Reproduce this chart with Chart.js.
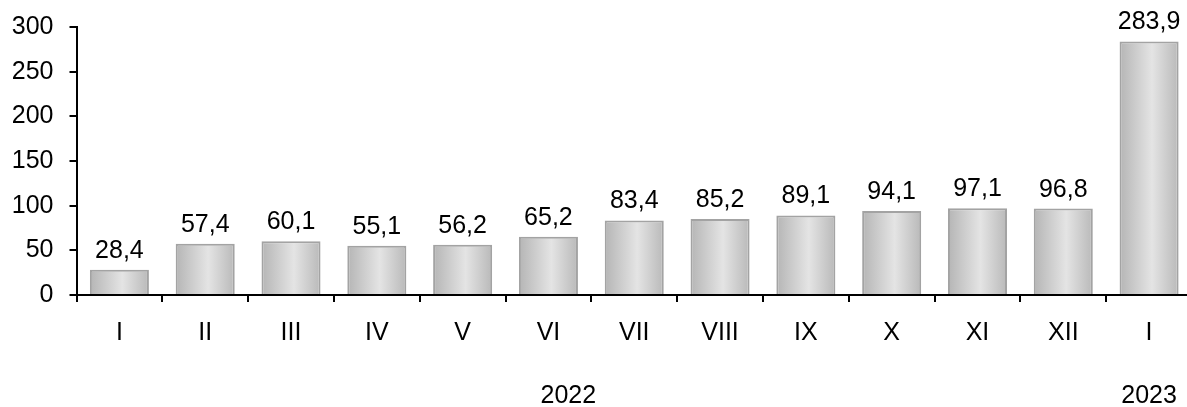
<!DOCTYPE html>
<html>
<head>
<meta charset="utf-8">
<script src="https://cdn.jsdelivr.net/npm/chart.js@4/dist/chart.umd.min.js"></script>
<style>
html,body{margin:0;padding:0;background:#fff;overflow:hidden;width:1187px;height:407px;}
#wrap{width:1192px;height:407px;}
</style>
</head>
<body>
<div id="wrap"><canvas id="c" width="1192" height="407"></canvas></div>
<script>
const categories = ['I','II','III','IV','V','VI','VII','VIII','IX','X','XI','XII','I'];
const values = [28.4, 57.4, 60.1, 55.1, 56.2, 65.2, 83.4, 85.2, 89.1, 94.1, 97.1, 96.8, 283.9];
const yearLabels = ['2022', '2023'];
const yearFrom = [0, 12];
const yearTo = [11, 12];
const yTicks = [0, 50, 100, 150, 200, 250, 300];

const FONT = '"Liberation Sans", Arial, sans-serif';
const FS = 25;
const BAR_PCT = 0.688;

function barFill(ctx) {
  const chart = ctx.chart;
  const xs = chart.scales.x;
  if (!chart.chartArea || !xs || ctx.dataIndex === undefined) return '#d0d0d0';
  const cx = xs.getPixelForValue(ctx.dataIndex);
  const w = (xs.width / categories.length) * BAR_PCT;
  if (!isFinite(cx) || !isFinite(w) || w <= 0) return '#d0d0d0';
  const g = chart.ctx.createLinearGradient(cx - w / 2, 0, cx + w / 2, 0);
  g.addColorStop(0, '#b5b5b5');
  g.addColorStop(0.55, '#e4e4e4');
  g.addColorStop(1, '#b9b9b9');
  return g;
}

const labelPlugin = {
  id: 'labels',
  afterDatasetsDraw(chart) {
    const c = chart.ctx;
    const meta = chart.getDatasetMeta(0);
    c.save();
    c.font = FS + 'px ' + FONT;
    c.fillStyle = '#000';
    c.textAlign = 'center';
    c.textBaseline = 'alphabetic';
    meta.data.forEach((el, i) => {
      c.fillText(values[i].toFixed(1).replace('.', ','), el.x, el.y - 12);
    });
    const xs = chart.scales.x;
    yearLabels.forEach((lab, i) => {
      let x = (xs.getPixelForValue(yearFrom[i]) + xs.getPixelForValue(yearTo[i])) / 2;
      if (yearFrom[i] !== yearTo[i]) x -= 23;
      c.textBaseline = 'middle';
      c.fillText(lab, x, 396);
    });
    c.restore();
  }
};

const chart = new Chart(document.getElementById('c'), {
  type: 'bar',
  data: {
    labels: categories,
    datasets: [{
      data: values,
      backgroundColor: barFill,
      borderColor: '#a3a3a3',
      borderWidth: 2,
      barPercentage: BAR_PCT,
      categoryPercentage: 1
    }]
  },
  options: {
    responsive: false,
    animation: false,
    layout: { padding: { top: 27, left: 0, right: 0, bottom: 0 } },
    plugins: { legend: { display: false }, tooltip: { enabled: false } },
    scales: {
      x: {
        afterFit(s) { s.height = 112; s.paddingLeft = 0; s.paddingRight = 0; },
        border: { color: '#000', width: 2 },
        grid: { drawOnChartArea: false, drawTicks: true, tickLength: 7, color: '#000', lineWidth: 2, offset: true },
        ticks: { color: '#000', font: { family: FONT, size: FS }, padding: 16, maxRotation: 0, autoSkip: false }
      },
      y: {
        min: 0, max: 300,
        afterFit(s) { s.width = 76.5; s.paddingTop = 0; s.paddingBottom = 0; },
        afterBuildTicks(s) { s.ticks = yTicks.map(v => ({ value: v })); },
        border: { color: '#000', width: 2 },
        grid: { drawOnChartArea: false, drawTicks: true, tickLength: 7, color: '#000', lineWidth: 2 },
        ticks: { color: '#000', font: { family: FONT, size: FS }, padding: 16 }
      }
    }
  },
  plugins: [labelPlugin]
});
chart.update();
</script>
</body>
</html>
